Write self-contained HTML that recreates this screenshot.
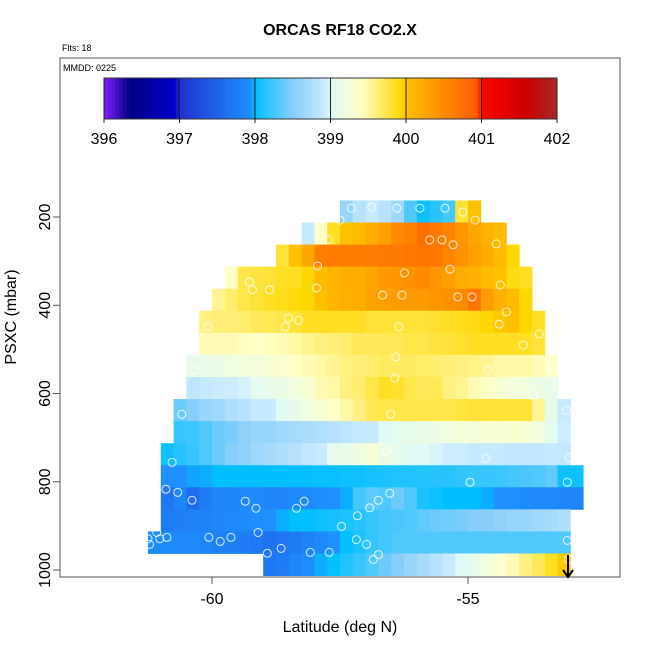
<!DOCTYPE html>
<html><head><meta charset="utf-8"><style>
body{margin:0;background:#fff;}
svg{display:block;font-family:"Liberation Sans",sans-serif;}
</style></head><body>
<svg id="chart" width="650" height="650" viewBox="0 0 650 650" xmlns="http://www.w3.org/2000/svg">
<rect x="0" y="0" width="650" height="650" fill="#fff"/>
<text x="340" y="35" text-anchor="middle" font-size="16" font-weight="bold">ORCAS RF18 CO2.X</text>
<text x="62" y="51" font-size="9">Flts: 18</text>
<g id="cells"></g>
<g id="pts"></g>
<g id="cbar"></g>
<rect x="60" y="58" width="560" height="519" fill="none" stroke="#555" stroke-width="1"/>
<text x="63" y="71" font-size="9">MMDD: 0225</text>
<g id="axes"></g>
<text x="340" y="632" text-anchor="middle" font-size="16">Latitude (deg N)</text>
<text transform="translate(16,317) rotate(-90)" text-anchor="middle" font-size="16">PSXC (mbar)</text>
<g>
<line x1="568" y1="555" x2="568" y2="577" stroke="#000" stroke-width="2"/>
<polyline points="563,570 568,577 573,570" fill="none" stroke="#000" stroke-width="2"/>
</g>
</svg>
<script>
const xTicks=[-60,-55];
const yTicks=[200,400,600,800,1000];
const cbarTicks=[396,397,398,399,400,401,402];
const rowTop=[162.5,212.5,262.5,312.5,362.5,412.5,462.5,512.5,562.5,612.5,662.5,712.5,762.5,812.5,862.5,912.5,962.5];
const rowStart=[-57.5,-58.25,-58.75,-59.75,-60,-60.25,-60.25,-60.5,-60.5,-60.75,-60.75,-61,-61,-61,-61,-61.25,-59];
const rowVals=[
[398.6,398.8,398.9,398.8,398.65,398.3,398.05,398.15,398.25,399.8,400.0],
[398.9,399.4,399.85,400,400.05,400.2,400.3,400.5,400.6,400.75,400.65,400.55,400.4,400.25,400.15,400.05],
[399.8,400,400.25,400.6,400.62,400.62,400.62,400.62,400.65,400.65,400.68,400.7,400.68,400.55,400.45,400.3,400.2,400.05,399.95],
[399.4,399.75,399.78,399.8,399.85,399.85,399.95,400.05,400.1,400.2,400.2,400.25,400.35,400.4,400.45,400.5,400.4,400.3,400.2,400.15,400.05,400.0,399.9,399.85],
[399.55,399.65,399.75,399.8,399.85,399.88,399.92,399.95,400,400.1,400.15,400.2,400.3,400.3,400.35,400.35,400.35,400.4,400.45,400.5,400.7,400.35,400.15,400.05,399.95],
[399.6,399.62,399.62,399.65,399.7,399.72,399.75,399.8,399.85,399.85,399.85,399.85,399.85,399.8,399.8,399.8,399.8,399.8,399.82,399.85,399.88,399.9,399.95,399.98,400.0,399.95,399.85],
[399.45,399.45,399.45,399.42,399.4,399.42,399.45,399.5,399.55,399.6,399.62,399.65,399.7,399.7,399.72,399.72,399.75,399.75,399.78,399.8,399.82,399.85,399.85,399.85,399.85,399.85,399.8],
[399.1,399.12,399.15,399.2,399.22,399.25,399.3,399.35,399.4,399.45,399.5,399.55,399.6,399.62,399.65,399.68,399.68,399.68,399.66,399.65,399.62,399.6,399.58,399.55,399.5,399.5,399.5,399.45,399.4],
[398.85,398.9,398.93,398.95,398.97,399.05,399.1,399.15,399.2,399.3,399.45,399.5,399.6,399.65,399.75,399.85,399.82,399.75,399.7,399.72,399.6,399.55,399.45,399.4,399.3,399.25,399.2,399.15,399.1],
[398.4,398.5,398.6,398.65,398.75,398.8,398.9,398.92,399.0,399.1,399.2,399.3,399.4,399.5,399.6,399.72,399.75,399.75,399.75,399.75,399.75,399.75,399.78,399.8,399.8,399.8,399.8,399.8,399.55,399.1,398.9],
[398.2,398.22,398.3,398.4,398.45,398.55,398.6,398.6,398.65,398.7,398.72,398.75,398.8,398.85,398.9,398.92,399.0,399.05,399.1,399.12,399.15,399.2,399.25,399.25,399.3,399.3,399.35,399.3,399.2,399.05,398.95],
[398.05,398.15,398.2,398.3,398.4,398.5,398.55,398.65,398.7,398.75,398.8,398.88,398.92,399.08,399.12,399.18,399.3,399.15,399.08,399.0,399.0,398.98,398.95,398.95,398.9,398.9,398.9,398.88,398.88,398.88,398.9,398.88],
[397.95,397.95,397.97,397.98,398.0,398.0,398.0,398.0,398.0,398.0,398.02,398.02,398.03,398.03,398.05,398.05,398.08,398.1,398.12,398.12,398.13,398.15,398.15,398.18,398.2,398.2,398.22,398.25,398.28,398.3,398.35,398.05,398.05],
[397.7,397.85,397.6,397.75,397.85,397.85,397.88,397.88,397.85,397.85,397.88,397.9,397.92,397.95,397.98,398.25,398.35,398.3,398.4,398.3,398.1,398.05,398.0,398.0,398.0,397.98,397.95,397.95,397.9,397.88,397.88,397.85,397.85],
[397.75,397.78,397.8,397.82,397.85,397.88,397.9,397.92,397.95,397.98,398.0,398.02,398.05,398.08,398.1,398.15,398.2,398.25,398.28,398.3,398.35,398.4,398.42,398.45,398.5,398.5,398.55,398.6,398.6,398.65,398.7,398.75],
[397.9,397.9,397.88,397.88,397.85,397.8,397.78,397.75,397.7,397.65,397.68,397.75,397.82,397.88,397.95,398.02,398.1,398.2,398.25,398.3,398.3,398.3,398.3,398.3,398.3,398.3,398.3,398.3,398.3,398.3,398.3,398.3,398.3],
[397.7,397.75,397.85,397.92,397.98,398.02,398.12,398.2,398.3,398.4,398.5,398.6,398.7,398.8,398.9,399.0,399.1,399.2,399.35,399.45,399.6,399.7,399.85,399.98]
];
const ptLat=[-57.28,-56.88,-56.39,-55.94,-55.45,-55.1,-54.86,-57.5,-57.73,-55.75,-55.51,-55.29,-54.45,-57.94,-56.24,-55.35,-59.27,-59.21,-58.88,-57.96,-56.29,-55.2,-54.92,-56.67,-54.37,-58.51,-54.25,-60.08,-58.57,-58.31,-56.35,-54.39,-53.61,-53.92,-56.41,-60.33,-56.43,-54.61,-53.39,-60.59,-56.51,-53.73,-53.08,-56.59,-54.65,-53.02,-60.78,-54.96,-53.06,-60.9,-60.67,-60.39,-59.35,-59.14,-58.2,-57.47,-58.35,-56.75,-56.92,-57.16,-56.53,-57.18,-61.08,-61.25,-61.02,-60.88,-60.06,-59.84,-59.63,-59.1,-58.92,-58.65,-58.08,-57.71,-56.98,-56.75,-56.85,-53.06,-53.04,-61.22]
;
const ptP=[-20,-22,-20,-20,-20,-11,7,7,52,52,52,63,61,111,127,118,147,165,165,161,177,181,181,177,154,229,215,249,249,234,249,243,265,290,317,347,365,347,338,447,447,404,438,531,547,545,556,601,601,617,624,642,644,660,644,701,660,642,659,677,626,731,715,729,729,726,726,735,726,715,762,751,760,760,742,765,776,733,776,742];
const cbarVals=[];for(let v=396;v<402;v+=0.05)cbarVals.push(v);

const X0=212,PXD=51.2,Y0=217,PXP=0.4413;
function xs(lat){return X0+(lat+60)*PXD;}
function ys(p){return Y0+(p-200)*PXP;}
const stops=[[396,[128,32,255]],[396.35,[0,0,128]],[396.95,[0,0,205]],[397.0,[32,48,208]],[397.95,[30,144,255]],[398.0,[0,191,255]],[398.5,[135,206,250]],[398.95,[205,236,255]],[399.0,[224,250,245]],[399.4,[255,255,200]],[399.95,[255,215,0]],[400.0,[255,192,0]],[400.95,[255,90,0]],[401.0,[255,0,0]],[401.6,[205,0,0]],[402,[165,42,42]]];
function col(v){
  if(v<=stops[0][0])return 'rgb('+stops[0][1]+')';
  for(let i=1;i<stops.length;i++){if(v<=stops[i][0]){const a=stops[i-1],b=stops[i];const t=(v-a[0])/(b[0]-a[0]);const c=a[1].map((q,k)=>Math.round(q+(b[1][k]-q)*t));return 'rgb('+c.join(',')+')';}}
  return 'rgb('+stops[stops.length-1][1]+')';
}
const NS='http://www.w3.org/2000/svg';
function mk(tag,attrs,parent){const e=document.createElementNS(NS,tag);for(const k in attrs)e.setAttribute(k,attrs[k]);parent.appendChild(e);return e;}
const cells=document.getElementById('cells');
rowVals.forEach((vals,r)=>{
  vals.forEach((v,c)=>{
    const lat=rowStart[r]+c*0.25;
    const x1=xs(lat),x2=xs(lat+0.25),y1=ys(rowTop[r]),y2=ys(rowTop[r]+50);
    const e=mk('rect',{x:x1.toFixed(2),y:y1.toFixed(2),width:(x2-x1+0.4).toFixed(2),height:(y2-y1+0.4).toFixed(2),fill:col(v)},cells);
    
    
  });
});
const pts=document.getElementById('pts');
ptLat.forEach((lat,i)=>{
  const e=mk('circle',{cx:xs(lat).toFixed(1),cy:ys(ptP[i]+200).toFixed(1),r:4,fill:'none',stroke:'#fff','stroke-opacity':0.85,'stroke-width':1},pts);
  
  
});
// colorbar
const cb=document.getElementById('cbar');
const CB0=104,CB1=557,CBT=78,CBB=119;
function cx(v){return CB0+(v-396)/6*(CB1-CB0);}
cbarVals.forEach(v=>{
  const e=mk('rect',{x:cx(v).toFixed(2),y:CBT,width:(cx(v+0.05)-cx(v)+0.3).toFixed(2),height:CBB-CBT,fill:col(v+0.025)},cb);
  
  
});
mk('rect',{x:CB0,y:CBT,width:CB1-CB0,height:CBB-CBT,fill:'none',stroke:'#333','stroke-width':1},cb);
cbarTicks.forEach(v=>{
  const l=mk('line',{x1:cx(v),x2:cx(v),y1:CBT,y2:CBB+4,stroke:'#222','stroke-width':1},cb);
  
  
  const t=mk('text',{x:cx(v),y:144,'text-anchor':'middle','font-size':16},cb);t.textContent=v;
  
  
});
const ax=document.getElementById('axes');
xTicks.forEach(v=>{
  const l=mk('line',{x1:xs(v),x2:xs(v),y1:577,y2:584,stroke:'#555'},ax);
  
  
  const t=mk('text',{x:xs(v),y:604,'text-anchor':'middle','font-size':16},ax);t.textContent=v;
  
  
});
yTicks.forEach(v=>{
  const y=ys(v);
  const l=mk('line',{x1:53,x2:60,y1:y,y2:y,stroke:'#555'},ax);
  
  
  const t=mk('text',{transform:'translate(50,'+y+') rotate(-90)','text-anchor':'middle','font-size':16},ax);t.textContent=v;
  
  
});
</script>
</body></html>
